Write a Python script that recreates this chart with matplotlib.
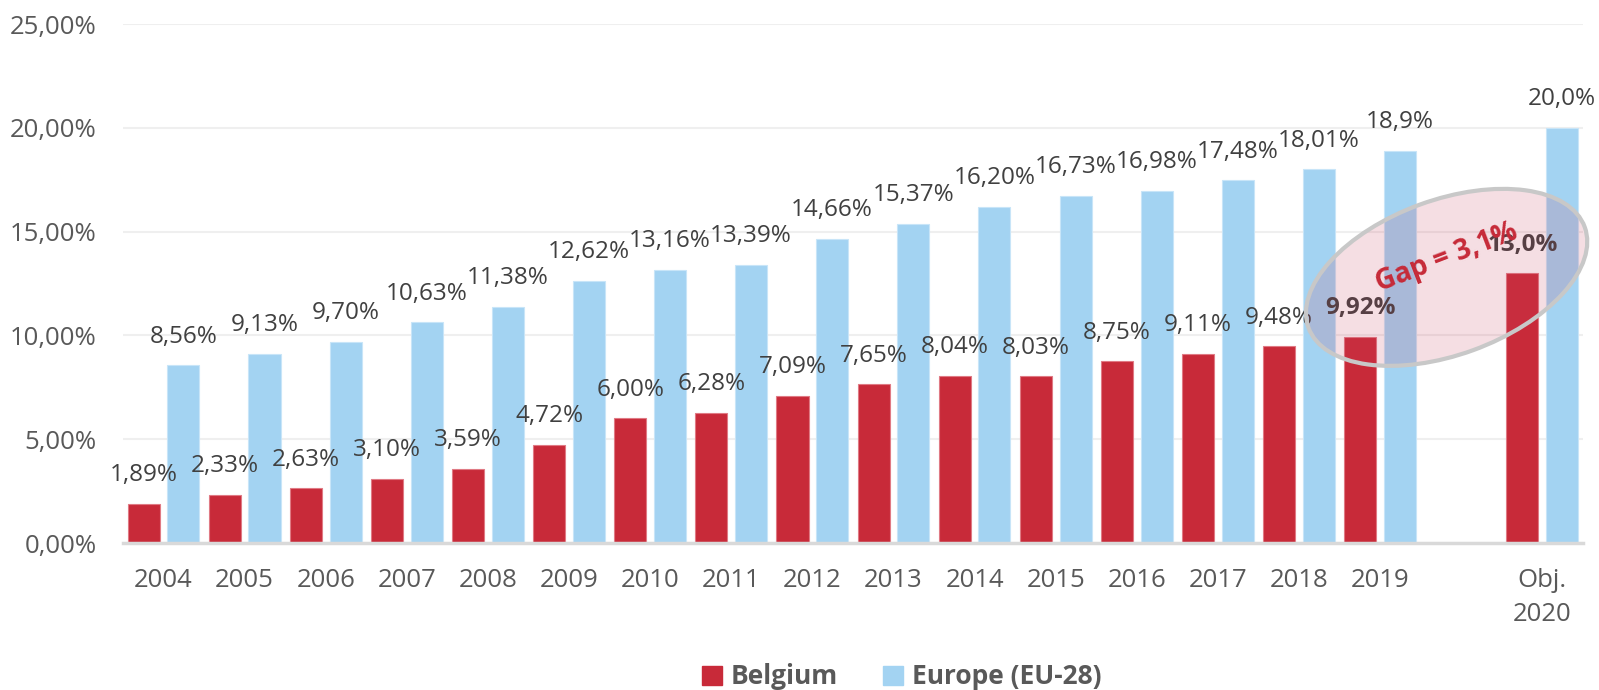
import numpy as np
import matplotlib
matplotlib.use("Agg")
import matplotlib.pyplot as plt
from matplotlib.patches import Ellipse, Patch
import matplotlib.transforms as mtransforms

plt.rcParams['font.family'] = ['Open Sans', 'DejaVu Sans']

# data
categories = ['2004', '2005', '2006', '2007', '2008', '2009', '2010', '2011',
              '2012', '2013', '2014', '2015', '2016', '2017', '2018', '2019',
              'Obj.\n2020']
belgium = [1.89, 2.33, 2.63, 3.10, 3.59, 4.72, 6.00, 6.28, 7.09, 7.65,
           8.04, 8.03, 8.75, 9.11, 9.48, 9.92, 13.0]
europe = [8.56, 9.13, 9.70, 10.63, 11.38, 12.62, 13.16, 13.39, 14.66, 15.37,
          16.20, 16.73, 16.98, 17.48, 18.01, 18.9, 20.0]
belgium_labels = ['1,89%', '2,33%', '2,63%', '3,10%', '3,59%', '4,72%', '6,00%',
                  '6,28%', '7,09%', '7,65%', '8,04%', '8,03%', '8,75%', '9,11%',
                  '9,48%', '9,92%', '13,0%']
europe_labels = ['8,56%', '9,13%', '9,70%', '10,63%', '11,38%', '12,62%', '13,16%',
                 '13,39%', '14,66%', '15,37%', '16,20%', '16,73%', '16,98%',
                 '17,48%', '18,01%', '18,9%', '20,0%']
bold_labels = ['9,92%', '13,0%']
gap_text = 'Gap = 3,1%'

# the objective sits one empty slot after 2019
pos = np.array(list(range(16)) + [17])

red = '#C82A39'
blue = '#A3D3F2'
txt = '#404040'
tick_col = '#595959'

fig = plt.figure(figsize=(15.99, 6.9), dpi=100)
ax = fig.add_axes([0.0769, 0.213, 0.913, 0.752])

w = 0.395
ax.bar(pos - 0.245, belgium, width=w, color=red, edgecolor='#E07A84', linewidth=0.8, zorder=3)
ax.bar(pos + 0.245, europe, width=w, color=blue, edgecolor='#C8E5F8', linewidth=0.8, zorder=3)

for x, v, s in zip(pos, belgium, belgium_labels):
    ax.annotate(s, (x - 0.245, v), xytext=(0, 12), textcoords='offset points',
                ha='center', va='bottom', fontsize=17.5, color=txt,
                fontweight='bold' if s in bold_labels else 'normal', zorder=4)
for x, v, s in zip(pos, europe, europe_labels):
    ax.annotate(s, (x + 0.245, v), xytext=(0, 12), textcoords='offset points',
                ha='center', va='bottom', fontsize=17.5, color=txt, zorder=4)

ax.set_xlim(-0.5, 17.5)
ax.set_ylim(0, 25)
ax.set_yticks(np.arange(0, 26, 5))
ax.set_yticklabels([('%.2f' % t).replace('.', ',') + '%' for t in np.arange(0, 26, 5)])
ax.set_xticks(pos)
ax.set_xticklabels(categories, linespacing=1.45)
ax.tick_params(axis='both', length=0, labelsize=18.5, labelcolor=tick_col)
ax.tick_params(axis='x', pad=18)
ax.tick_params(axis='y', pad=19)

ax.grid(axis='y', color='#EFEFEF', linewidth=1.5, zorder=0)
ax.set_axisbelow(True)
for sp in ['top', 'right', 'left']:
    ax.spines[sp].set_visible(False)
ax.spines['bottom'].set_color('#D9D9D9')
ax.spines['bottom'].set_linewidth(2.5)
ax.spines['bottom'].set_zorder(5)

# highlight ellipse around the gap
trans = fig.dpi_scale_trans + mtransforms.ScaledTranslation(15.82, 12.8, ax.transData)
ell = Ellipse((0, 0), width=2.94, height=1.55, angle=20, transform=trans,
              facecolor=(200/255, 60/255, 90/255, 0.17), edgecolor='#C8C8C8',
              linewidth=3, zorder=6, clip_on=False)
ax.add_patch(ell)
ax.text(15.82, 13.75, gap_text, rotation=21, ha='center', va='center',
        fontsize=20, fontweight='bold', color='#C62A38', zorder=7,
        rotation_mode='anchor')

handles = [Patch(color=red, label='Belgium'), Patch(color=blue, label='Europe (EU-28)')]
leg = fig.legend(handles=handles, loc='center', bbox_to_anchor=(0.564, 0.019),
                 ncol=2, frameon=False, handlelength=0.75, handleheight=0.75,
                 handletextpad=0.35, columnspacing=1.7,
                 prop={'size': 19, 'weight': 'bold'})
for t in leg.get_texts():
    t.set_color(tick_col)

fig.savefig('out.png', dpi=100)
